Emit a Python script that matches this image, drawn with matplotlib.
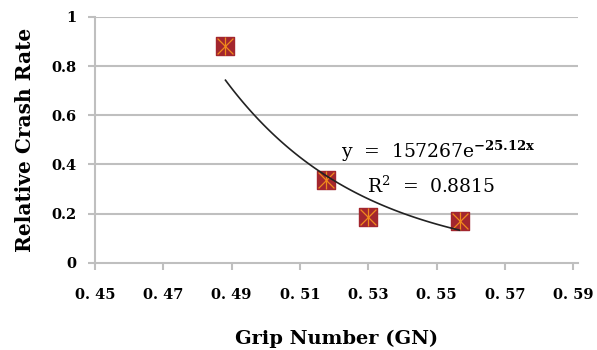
import numpy as np
import matplotlib
matplotlib.use("Agg")
from matplotlib import pyplot as plt

# data
grip = [0.4882, 0.5175, 0.5298, 0.5567]
crash = [0.88, 0.335, 0.185, 0.17]

# exponential trendline y = a * exp(b x)
a = 157267
b = -25.12
r2 = 0.8815

x_ticks = [0.45, 0.47, 0.49, 0.51, 0.53, 0.55, 0.57, 0.59]
y_ticks = [0, 0.2, 0.4, 0.6, 0.8, 1]

plt.rcParams["font.family"] = ["DejaVu Serif"]
plt.rcParams["mathtext.fontset"] = "dejavuserif"

fig = plt.figure(figsize=(5.97, 3.5), dpi=100)
ax = fig.add_axes([0.159, 0.249, 0.81, 0.703])

grid_c = "#bfbfbf"
for yt in y_ticks[1:]:
    ax.axhline(yt, color=grid_c, lw=1.5, zorder=0)

tx = np.linspace(min(grip), max(grip), 100)
ax.plot(tx, a * np.exp(b * tx), color="#222222", lw=1.2, zorder=3)

ax.scatter(grip, crash, marker="s", s=185, color="#a3262e", zorder=2)
ax.scatter(grip, crash, marker="x", s=130, color="#f08a1c", lw=0.9, zorder=2.5)
ax.scatter(grip, crash, marker="|", s=185, color="#f08a1c", lw=0.9, zorder=2.5)

ax.set_xlim(0.45, 0.5915)
ax.set_ylim(0, 1)
ax.set_xticks(x_ticks)
ax.set_yticks(y_ticks)
ax.set_xticklabels([f"{v:.2f}".replace(".", ". ") for v in x_ticks],
                   fontsize=10.5, fontweight="bold")
ax.set_yticklabels(["0", "0.2", "0.4", "0.6", "0.8", "1"],
                   fontsize=10.5, fontweight="bold")
for s in ["top", "right"]:
    ax.spines[s].set_visible(False)
for s in ["left", "bottom"]:
    ax.spines[s].set_color(grid_c)
    ax.spines[s].set_linewidth(1.5)
ax.tick_params(axis="x", color=grid_c, width=1.5, length=5, pad=13)
ax.tick_params(axis="y", color=grid_c, width=1.5, length=5, pad=8)

ax.text(0.522, 0.425, "y  =  157267e$^{\\mathbf{-25.12x}}$", fontsize=13.5)
ax.text(0.5295, 0.285, "R$^{2}$  =  0.8815", fontsize=13.5)

ax.set_xlabel("Grip Number (GN)", fontsize=14, fontweight="bold", labelpad=20)
ax.set_ylabel("Relative Crash Rate", fontsize=14.5, fontweight="bold", labelpad=12)

fig.savefig("out.png", dpi=100)
